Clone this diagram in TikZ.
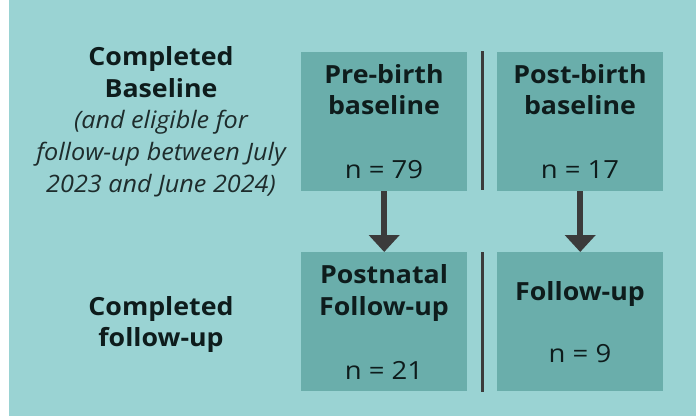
\documentclass[tikz,border=0pt]{standalone}
\usepackage{fontspec}
\setmainfont{Open Sans}
\newfontfamily\ttlfont[FakeStretch=1.07]{Open Sans}
\newfontfamily\numfont[FakeStretch=1.1]{Open Sans}
\newfontfamily\notefont[FakeStretch=1.05]{Open Sans}
\usetikzlibrary{arrows.meta}
\definecolor{bgc}{HTML}{9AD3D3}
\definecolor{boxc}{HTML}{6AAEAB}
\definecolor{linec}{HTML}{3B3B3B}
\definecolor{txtc}{HTML}{0E1C1C}
\definecolor{notec}{HTML}{1E2C2C}
\begin{document}
\begin{tikzpicture}[x=1pt,y=-1pt,
  box/.style={fill=boxc,draw=none,minimum width=166pt,minimum height=139pt,inner sep=0pt,anchor=north west},
  ttl/.style={font=\ttlfont\bfseries\fontsize{25}{30}\selectfont,text=txtc,anchor=base,inner sep=0pt},
  num/.style={font=\numfont\fontsize{25}{30}\selectfont,text=txtc,anchor=base,inner sep=0pt},
  note/.style={font=\notefont\itshape\fontsize{24}{30}\selectfont,text=notec,anchor=base,inner sep=0pt},
  arr/.style={draw=linec,line width=6pt,-{Triangle[width=30pt,length=17pt]}},
  divider/.style={draw=linec,line width=3pt}]
\useasboundingbox (0,0) rectangle (696,416);
\fill[bgc] (9,0) rectangle (696,416);
% boxes
\node[box] (pre) at (301,52) {};
\node[box] (post) at (497,52) {};
\node[box] (pnf) at (301,252) {};
\node[box] (fu) at (497,252) {};
% box texts
\node[ttl] (preA) at (384,83) {Pre-birth};
\node[ttl] (preB) at (384,114) {baseline};
\node[num] (preN) at (384,178) {n = 79};
\node[ttl] (postA) at (580,83) {Post-birth};
\node[ttl] (postB) at (580,114) {baseline};
\node[num] (postN) at (580,178) {n = 17};
\node[ttl] (pnfA) at (384,283) {Postnatal};
\node[ttl] (pnfB) at (384,315) {Follow-up};
\node[num] (pnfN) at (384,379) {n = 21};
\node[ttl] (fuA) at (580,300) {Follow-up};
\node[num] (fuN) at (580,362) {n = 9};
% left labels
\node[ttl] (cbA) at (161,65) {Completed};
\node[ttl] (cbB) at (161,97) {Baseline};
\node[note] (cbC) at (161,128) {(and eligible for};
\node[note] (cbD) at (161,160) {follow-up between July};
\node[note] (cbE) at (161,192) {2023 and June 2024)};
\node[ttl] (cfA) at (161,315) {Completed};
\node[ttl] (cfB) at (161,346) {follow-up};
% arrows
\draw[arr] (pre.south) -- (pnf.north);
\draw[arr] (post.south) -- (fu.north);
% dividers
\coordinate (d1) at (482,51);
\coordinate (d2) at (482,190);
\coordinate (d3) at (482,252);
\coordinate (d4) at (482,392);
\draw[divider] (d1) -- (d2);
\draw[divider] (d3) -- (d4);
\end{tikzpicture}
\end{document}
